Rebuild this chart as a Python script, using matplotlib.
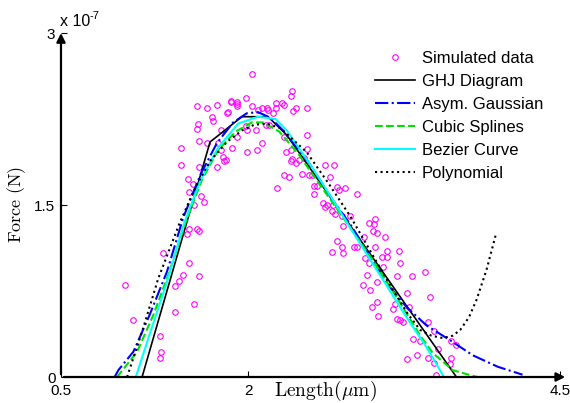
import numpy as np
import matplotlib
matplotlib.use("Agg")
import matplotlib.pyplot as plt

plt.rcParams['font.family'] = ['Liberation Sans', 'DejaVu Sans']
plt.rcParams['mathtext.fontset'] = 'cm'

# Force values are in units of 1e-7 N
sim_len = [1.01, 1.08, 1.29, 1.30, 1.29, 1.32, 1.41, 1.41, 1.45, 1.48, 1.53, 1.61, 1.57, 1.51, 1.53,
           1.59, 1.61, 1.46, 1.46, 1.52, 1.56, 1.53, 1.62, 1.65, 1.57, 1.59, 1.67, 1.75, 1.86, 1.71,
           1.72, 1.83, 1.60, 1.59, 1.78, 1.61, 1.67, 1.76, 1.78, 1.80, 1.61, 1.75, 1.81,
           2.03, 2.35, 2.34, 1.98, 1.86, 1.91, 1.91, 1.91, 2.03, 2.11, 2.15, 2.16, 2.22, 2.27, 2.29,
           2.22, 2.38, 2.47, 2.36, 1.84, 2.20, 2.08, 1.98, 2.14, 2.17, 2.06, 1.99, 1.91, 2.47, 2.29,
           2.11, 1.87, 1.99, 2.07, 2.30, 2.34, 2.47, 1.82, 2.35, 2.38, 2.34, 2.41, 2.45, 2.62, 2.69,
           2.43, 2.29, 2.33, 2.66, 2.51, 2.23, 2.53, 2.55, 2.53, 2.71, 2.78, 2.49, 2.73, 2.87, 2.60,
           2.63, 2.62, 2.68, 2.67, 2.70, 2.75, 2.76, 2.82, 2.97, 3.02, 3.01, 3.00, 3.03, 2.93, 3.10,
           2.71, 3.02, 2.85, 2.87, 2.75, 2.67, 2.76, 3.11, 3.21, 2.94, 3.07, 3.11, 3.22, 3.08, 2.97,
           2.95, 3.19, 3.31, 3.42, 3.03, 2.92, 2.98, 3.27, 3.46, 3.03, 2.99, 3.18, 3.16, 3.04, 3.29,
           3.19, 3.22, 3.24, 3.44, 3.49, 3.32, 3.38, 3.63, 3.67, 3.52, 3.35, 3.44, 3.27, 3.63, 3.49,
           3.62, 3.51]
sim_force = [0.80, 0.50, 0.36, 0.22, 0.17, 1.08, 0.79, 0.57, 0.84, 0.89, 0.99, 0.88, 0.64, 1.25, 1.29,
             1.29, 1.27, 2.00, 1.85, 1.73, 1.68, 1.61, 1.58, 1.53, 1.50, 2.36, 2.35, 2.37, 2.40, 2.27,
             2.23, 2.30, 2.21, 2.16, 2.15, 2.06, 2.04, 2.04, 1.98, 1.92, 1.83, 1.83, 1.88,
             2.64, 2.49, 2.45, 2.43, 2.41, 2.40, 2.38, 2.36, 2.36, 2.35, 2.35, 2.33, 2.39, 2.39, 2.37,
             2.35, 2.35, 2.35, 2.32, 2.31, 2.30, 2.33, 2.19, 2.20, 2.20, 2.15, 2.15, 2.09, 2.11, 2.09,
             2.04, 2.00, 1.96, 1.98, 1.96, 1.98, 1.99, 1.89, 1.90, 1.87, 1.88, 1.89, 1.91, 1.85, 1.85,
             1.77, 1.76, 1.74, 1.74, 1.76, 1.65, 1.67, 1.67, 1.60, 1.66, 1.65, 1.76, 1.63, 1.60, 1.52,
             1.50, 1.48, 1.50, 1.45, 1.42, 1.40, 1.32, 1.40, 1.34, 1.38, 1.33, 1.27, 1.26, 1.22, 1.22,
             1.19, 1.13, 1.13, 1.13, 1.13, 1.09, 1.08, 1.10, 1.10, 1.04, 1.05, 1.05, 0.99, 0.96, 0.99,
             0.89, 0.88, 0.88, 0.92, 0.83, 0.80, 0.76, 0.73, 0.70, 0.65, 0.61, 0.64, 0.59, 0.53, 0.61,
             0.51, 0.50, 0.48, 0.48, 0.40, 0.33, 0.31, 0.31, 0.28, 0.24, 0.19, 0.17, 0.16, 0.17, 0.12,
             0.11, 0.02]

ghj_len = [1.15, 1.695, 1.80, 1.95, 2.16, 2.31, 3.67]
ghj_force = [0.0, 2.05, 2.14, 2.27, 2.27, 2.11, 0.0]

gauss_len = [0.93, 0.96, 1.08, 1.21, 1.35, 1.48, 1.62, 1.75, 1.88, 1.99, 2.08, 2.18, 2.28, 2.48,
             2.68, 2.82, 2.98, 3.14, 3.27, 3.43, 3.62, 3.80, 4.00, 4.20]
gauss_force = [0.0, 0.06, 0.22, 0.54, 0.92, 1.39, 1.77, 2.04, 2.22, 2.30, 2.31, 2.26, 2.15, 1.88,
               1.54, 1.33, 1.05, 0.78, 0.61, 0.45, 0.32, 0.19, 0.09, 0.02]

spline_len = [0.95, 1.11, 1.24, 1.37, 1.50, 1.63, 1.76, 1.90, 2.03, 2.12, 2.25, 2.40, 2.60, 2.80,
              3.00, 3.20, 3.38, 3.48, 3.64, 3.80, 3.84]
spline_force = [0.0, 0.22, 0.54, 0.92, 1.35, 1.72, 1.98, 2.14, 2.22, 2.22, 2.14, 1.95, 1.64, 1.33,
                1.02, 0.68, 0.36, 0.21, 0.06, 0.01, 0.0]

bezier_len = [1.10, 1.21, 1.35, 1.49, 1.62, 1.76, 1.92, 2.08, 2.22, 2.31, 2.50, 2.70, 2.90, 3.08,
              3.27, 3.43, 3.57]
bezier_force = [0.0, 0.37, 0.83, 1.35, 1.72, 2.00, 2.21, 2.27, 2.25, 2.15, 1.85, 1.51, 1.16, 0.85,
                0.52, 0.26, 0.0]

poly_len = [1.03, 1.16, 1.28, 1.45, 1.58, 1.70, 1.83, 1.95, 2.05, 2.15, 2.26, 2.47, 2.65, 2.82,
            3.00, 3.16, 3.28, 3.38, 3.47, 3.56, 3.64, 3.70, 3.77, 3.83, 3.91, 3.99]
poly_force = [0.0, 0.43, 0.86, 1.34, 1.66, 1.89, 2.05, 2.15, 2.20, 2.21, 2.17, 1.96, 1.68, 1.40,
              1.06, 0.76, 0.55, 0.41, 0.36, 0.34, 0.36, 0.41, 0.52, 0.67, 0.93, 1.26]

fig = plt.figure(figsize=(5.7, 4.03), dpi=100)
ax = fig.add_axes([0.107, 0.0645, 0.8754, 0.8536])

ax.plot(sim_len, sim_force, 'o', mfc='none', mec='#ff00ff', ms=4, mew=0.8, label='Simulated data')
ax.plot(ghj_len, ghj_force, '-', color='k', lw=1.2, label='GHJ Diagram')
ax.plot(gauss_len, gauss_force, '-.', color='#0000ff', lw=1.5, label='Asym. Gaussian')
ax.plot(spline_len, spline_force, '--', color='#00e000', lw=1.5, label='Cubic Splines')
ax.plot(bezier_len, bezier_force, '-', color='#00ffff', lw=1.5, label='Bezier Curve')
ax.plot(poly_len, poly_force, ':', color='k', lw=1.5, label='Polynomial')

ax.set_xlim(0.5, 4.5)
ax.set_ylim(0, 3)
ax.set_xticks([0.5, 2, 4.5])
ax.set_xticklabels(['0.5', '2', '4.5'])
ax.set_yticks([0, 1.5, 3])
ax.set_yticklabels(['0', '1.5', '3'])
ax.tick_params(direction='in', length=4, width=0.8, labelsize=11)
ax.tick_params(axis='x', pad=5)
ax.tick_params(axis='y', pad=4)
for s in ax.spines.values():
    s.set_visible(False)

# axis arrows
ax.annotate('', xy=(1.016, 0), xytext=(0, 0), xycoords='axes fraction',
            arrowprops=dict(arrowstyle='-|>', lw=1.6, color='k', mutation_scale=13), annotation_clip=False)
ax.annotate('', xy=(0, 1.008), xytext=(0, 0), xycoords='axes fraction',
            arrowprops=dict(arrowstyle='-|>', lw=1.6, color='k', mutation_scale=13), annotation_clip=False)

ax.set_xlabel(r'$\mathrm{Length}(\mu\mathrm{m})$', fontsize=14)
ax.xaxis.set_label_coords(0.53, -0.006)
ax.set_ylabel(r'$\mathrm{Force\ (N)}$', fontsize=13)
ax.yaxis.set_label_coords(-0.066, 0.5)

fig.text(60 / 570, 1 - 26 / 403, 'x 10', fontsize=11.5, va='baseline')
fig.text(90 / 570, 1 - 19 / 403, '-7', fontsize=8, va='baseline')

ax.legend(loc='upper left', bbox_to_anchor=(375 / 570, 1 - 51 / 403), bbox_transform=fig.transFigure,
          frameon=False, fontsize=12, handlelength=2.4, handletextpad=0.4, labelspacing=0.48,
          borderpad=0, borderaxespad=0)

fig.savefig('out.png', dpi=100)
